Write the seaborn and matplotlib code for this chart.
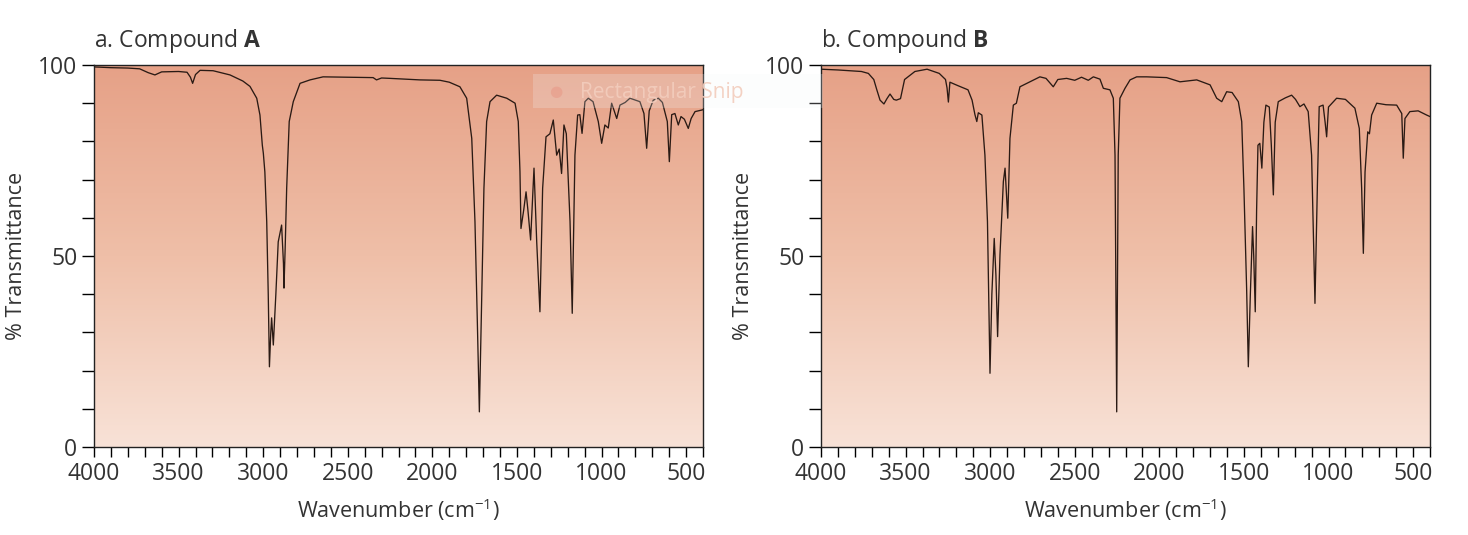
import numpy as np
import pandas as pd
import matplotlib
matplotlib.use("Agg")
import matplotlib.pyplot as plt
import seaborn as sns
from matplotlib.colors import LinearSegmentedColormap
from matplotlib.ticker import MultipleLocator

# ── spectrum A (wavenumber cm-1, % transmittance) ─────────
wn_a = [4000, 3900, 3800, 3730, 3680, 3640, 3600, 3500, 3450, 3430, 3417, 3400,
        3373, 3296, 3196, 3120, 3078, 3038, 3019, 3005, 2999, 2990, 2979, 2970,
        2963, 2955, 2950, 2940, 2925, 2911, 2891, 2880, 2877, 2870, 2861, 2846,
        2822, 2782, 2723, 2646, 2500, 2350, 2330, 2300, 2250, 2073, 1955, 1900,
        1837, 1797, 1767, 1748, 1734, 1722, 1710, 1695, 1679, 1659, 1620, 1560,
        1511, 1492, 1482, 1476, 1460, 1446, 1435, 1419, 1399, 1383, 1364, 1348,
        1328, 1305, 1285, 1265, 1250, 1236, 1222, 1208, 1186, 1173, 1157, 1141,
        1128, 1115, 1098, 1078, 1050, 1019, 999, 980, 960, 940, 910, 891,
        860, 832, 773, 749, 733, 718, 694, 664, 640, 611, 599, 585,
        566, 546, 530, 510, 487, 470, 447, 408, 400]
tr_a = [99.5, 99.3, 99.2, 99.0, 98.0, 97.4, 98.2, 98.3, 98.1, 96.8, 95.2, 97.5,
        98.6, 98.5, 97.4, 95.8, 94.4, 91.3, 86.9, 79.0, 76.9, 72.0, 59.0, 40.0,
        21.0, 30.0, 33.8, 26.7, 40.0, 53.7, 58.1, 48.0, 41.6, 52.0, 67.8, 85.2,
        90.4, 95.2, 96.1, 96.9, 96.8, 96.7, 96.1, 96.6, 96.5, 96.1, 96.0, 95.5,
        94.3, 91.3, 80.8, 59.0, 32.8, 9.2, 35.0, 67.7, 85.2, 90.4, 92.1, 91.3,
        90.0, 85.2, 72.1, 57.2, 62.0, 66.8, 62.0, 54.2, 73.0, 53.7, 35.4, 67.7,
        81.2, 82.0, 85.6, 76.4, 78.0, 71.6, 84.3, 82.0, 59.0, 35.0, 76.4, 86.9,
        87.0, 82.1, 90.4, 91.3, 90.4, 85.2, 79.5, 84.3, 83.5, 90.0, 86.0, 89.5,
        90.2, 91.3, 90.4, 87.3, 78.2, 88.0, 90.8, 91.3, 90.2, 85.2, 74.7, 87.0,
        87.3, 84.3, 86.5, 85.8, 83.4, 86.0, 87.8, 88.2, 88.3]

# ── spectrum B ────────────────────────────────────────────
wn_b = [4000, 3900, 3761, 3720, 3688, 3670, 3651, 3628, 3610, 3592, 3570, 3555,
        3530, 3506, 3445, 3373, 3301, 3264, 3255, 3247, 3238, 3191, 3131, 3107,
        3090, 3079, 3070, 3049, 3031, 3016, 3001, 2990, 2976, 2966, 2956, 2942,
        2922, 2912, 2896, 2883, 2863, 2845, 2824, 2765, 2706, 2670, 2627, 2600,
        2548, 2500, 2460, 2420, 2390, 2351, 2331, 2292, 2272, 2262, 2252, 2243,
        2233, 2203, 2173, 2134, 2075, 1957, 1878, 1779, 1700, 1661, 1631, 1602,
        1570, 1533, 1513, 1500, 1484, 1474, 1462, 1449, 1442, 1433, 1425, 1417,
        1406, 1394, 1382, 1370, 1350, 1338, 1326, 1315, 1297, 1255, 1218, 1195,
        1169, 1145, 1120, 1100, 1080, 1065, 1055, 1032, 1020, 1011, 1000, 952,
        900, 844, 818, 804, 794, 784, 768, 758, 745, 715, 660, 597,
        567, 558, 548, 519, 470, 420, 400]
tr_b = [98.9, 98.7, 98.3, 97.8, 96.2, 93.5, 90.8, 89.8, 91.2, 92.4, 91.0, 90.8,
        91.2, 96.2, 98.3, 98.9, 97.8, 96.2, 94.0, 90.3, 95.5, 94.6, 93.5, 90.8,
        87.0, 85.2, 87.5, 86.9, 76.4, 59.0, 19.3, 40.0, 54.6, 45.0, 28.9, 50.3,
        69.5, 73.0, 59.9, 80.8, 89.5, 90.0, 94.3, 95.6, 96.9, 96.5, 94.3, 96.2,
        96.5, 96.0, 96.8, 96.0, 96.9, 96.3, 93.9, 93.5, 91.3, 76.4, 9.2, 76.4,
        91.3, 93.9, 96.1, 96.9, 96.9, 96.7, 95.6, 96.1, 94.8, 91.3, 90.4, 93.0,
        92.8, 90.4, 85.2, 67.7, 41.5, 21.0, 40.0, 57.7, 50.0, 35.4, 62.0, 79.0,
        79.5, 73.0, 85.0, 89.5, 89.0, 79.0, 66.0, 85.0, 90.4, 91.4, 92.1, 91.0,
        89.1, 89.8, 87.8, 76.4, 37.6, 70.0, 89.1, 89.5, 85.0, 81.2, 89.0, 91.3,
        91.0, 88.7, 83.4, 67.7, 50.7, 72.0, 82.5, 82.0, 86.9, 90.0, 89.6, 89.5,
        87.3, 75.6, 86.0, 87.8, 88.0, 86.9, 86.5]

titles = ["a. Compound ", "b. Compound "]
letters = ["A", "B"]
x_ticks = [4000, 3500, 3000, 2500, 2000, 1500, 1000, 500]
y_ticks = [0, 50, 100]

sns.set_style("ticks")
plt.rcParams['font.family'] = ['Open Sans', 'DejaVu Sans']
plt.rcParams['mathtext.fontset'] = 'custom'
plt.rcParams['mathtext.rm'] = 'Open Sans'
plt.rcParams['mathtext.bf'] = 'Open Sans:bold'

fig = plt.figure(figsize=(14.68, 5.35), dpi=100)
W, H = 1468, 535
bg = LinearSegmentedColormap.from_list("bg", ["#f8e2d7", "#efbfa8", "#e6a187"])
grad = np.linspace(0, 1, 256).reshape(-1, 1)

for i, (wn, tr) in enumerate([(wn_a, tr_a), (wn_b, tr_b)]):
    left = [94, 821][i]
    ax = fig.add_axes([left / W, 88 / H, 609 / W, 382 / H])
    ax.imshow(grad, extent=[4000, 400, 0, 100], origin='lower', aspect='auto',
              cmap=bg, zorder=0)
    df = pd.DataFrame({"wn": wn, "T": tr})
    sns.lineplot(data=df, x="wn", y="T", ax=ax, color="#2a1a14", lw=0.95,
                 sort=False, estimator=None, zorder=2)
    ax.set_xlim(4000, 400)
    ax.set_ylim(0, 100)
    ax.set_xticks(x_ticks)
    ax.xaxis.set_minor_locator(MultipleLocator(100))
    ax.set_yticks(y_ticks)
    ax.yaxis.set_minor_locator(MultipleLocator(10))
    ax.tick_params(which='both', direction='out', color='black', width=1.0)
    ax.tick_params(axis='x', which='both', length=7, labelsize=16.5,
                   labelcolor='#333333', pad=4)
    ax.tick_params(axis='y', which='both', length=9, labelsize=16.5,
                   labelcolor='#333333', pad=3)
    for s in ax.spines.values():
        s.set_color('#222222')
        s.set_linewidth(1.0)
    ax.set_xlabel("Wavenumber (cm$^{-1}$)", fontsize=15.5, color='#333333')
    ax.xaxis.set_label_coords(0.5, -0.13)
    ax.set_ylabel("% Transmittance", fontsize=15.5, color='#333333')
    ax.yaxis.set_label_coords(-0.11, 0.5)
    ax.set_title(titles[i] + "$\\mathbf{" + letters[i] + "}$", loc='left',
                 fontsize=16.5, color='#333333', pad=13)

# screen-snip overlay left in the source image
fig.patches.append(plt.Rectangle((533 / W, 1 - 108 / H), 290 / W, 34 / H,
                                 transform=fig.transFigure, facecolor='#f2f6fa',
                                 alpha=0.22, edgecolor='none', zorder=5))
fig.text(549 / W, 1 - 92 / H, "\u25cf", fontsize=11, color='#e89a88', alpha=0.6,
         va='center', zorder=6)
fig.text(580 / W, 1 - 92 / H, "Rectangular Snip", fontsize=15, color='#f3cdbd',
         alpha=0.9, va='center', zorder=6)

fig.savefig("out.png", dpi=100)
